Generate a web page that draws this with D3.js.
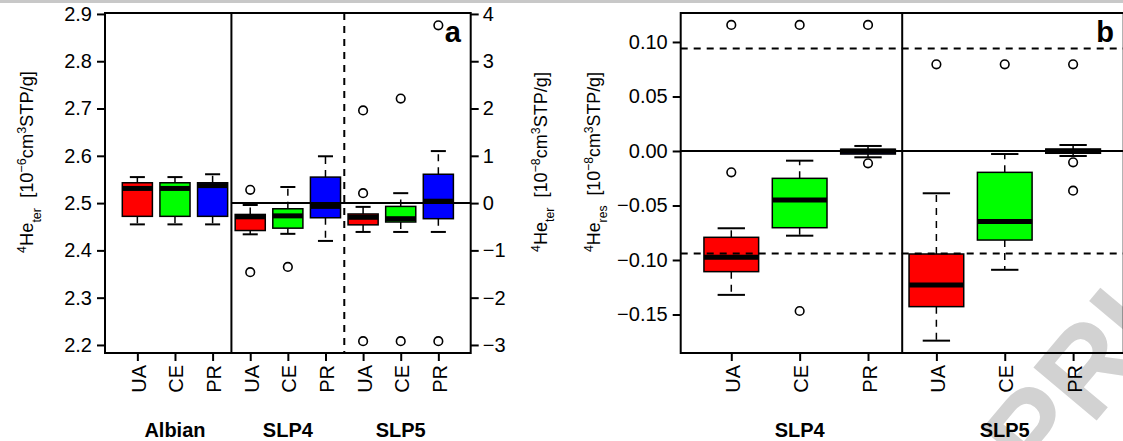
<!DOCTYPE html>
<html>
<head>
<meta charset="utf-8">
<script src="https://cdn.jsdelivr.net/npm/d3@7"></script>
<style>
  body { margin: 0; background: #fff; }
  svg { font-family: "Liberation Sans", Arial, sans-serif; display: block; }
</style>
</head>
<body>
<svg id="chart" width="1123" height="441"></svg>
<script>
// categories
const methods = ["UA", "CE", "PR"];
const colors  = ["#ff0000", "#00ff00", "#0000ff"];
const groupsA = ["Albian", "SLP4", "SLP5"];
const groupsB = ["SLP4", "SLP5"];

// tick labels
const ticksLeftA  = [2.2, 2.3, 2.4, 2.5, 2.6, 2.7, 2.8, 2.9];
const ticksRightA = [-3, -2, -1, 0, 1, 2, 3, 4];
const ticksB      = [-0.15, -0.10, -0.05, 0.00, 0.05, 0.10];

// box stats: [lower whisker, Q1, median, Q3, upper whisker]
// panel a, Albian on left axis (1e-6)
const albianStats = [[2.455, 2.472, 2.531, 2.543, 2.555],
                     [2.455, 2.472, 2.531, 2.543, 2.555],
                     [2.455, 2.472, 2.537, 2.543, 2.561]];
const albianOut = [[], [], []];
// panel a, SLP4 / SLP5 on right axis (1e-8)
const slp4StatsA = [[-0.66, -0.58, -0.29, -0.24, -0.04],
                    [-0.65, -0.53, -0.27, -0.12, 0.34],
                    [-0.80, -0.31, -0.07, 0.55, 0.99]];
const slp4OutA = [[0.28, -1.46], [-1.35], []];
const slp5StatsA = [[-0.61, -0.46, -0.30, -0.23, -0.08],
                    [-0.61, -0.40, -0.33, -0.07, 0.21],
                    [-0.61, -0.33, 0.04, 0.61, 1.10]];
const slp5OutA = [[1.96, 0.21, -2.92], [2.21, -2.92], [3.76, -2.92]];

// panel b, residuals (1e-8)
const slp4StatsB = [[-0.132, -0.1107, -0.0975, -0.0792, -0.0709],
                    [-0.0777, -0.0704, -0.045, -0.0251, -0.0089],
                    [-0.0058, -0.0028, -0.0003, 0.0016, 0.0046]];
const slp4OutB = [[0.1156, -0.0196], [0.1156, -0.1468], [0.1156, -0.0113]];
const slp5StatsB = [[-0.174, -0.1428, -0.123, -0.0945, -0.0388],
                    [-0.109, -0.0817, -0.0648, -0.0196, -0.0028],
                    [-0.0046, -0.0021, -0.0002, 0.0018, 0.0055]];
const slp5OutB = [[0.0795], [0.0795], [0.0795, -0.0104, -0.0364]];
const limitsB = [0.094, -0.094];

const svg = d3.select("#chart");

// gray strip + watermark
svg.append("rect").attr("x", 0).attr("y", 0).attr("width", 1123).attr("height", 3).attr("fill", "#c8c8c8");
svg.append("text")
  .attr("transform", "translate(1040,488) rotate(-50)")
  .attr("font-size", 120).attr("font-weight", "bold")
  .attr("fill", "#d2d2d2").text("PRI");

const TOP = 13, BOTTOM = 353;

const xA  = d3.scaleLinear().domain([0.14, 9.86]).range([105, 470.7]);
const yL  = d3.scaleLinear().domain([2.183, 2.902]).range([BOTTOM, TOP]);
const yR  = d3.scaleLinear().domain([-3.17, 4.02]).range([BOTTOM, TOP]);
const xB  = d3.scaleLinear().domain([0.26, 6.74]).range([680.7, 1123.7]);
const yB  = d3.scaleLinear().domain([-0.1856, 0.1263]).range([BOTTOM + 0.3, TOP + 0.3]);

function drawBox(g, x, y, pos, st, outs, color, unit) {
  const half = 0.4 * unit, cap = 0.2 * unit;
  const cx = x(pos);
  // whiskers
  g.append("line").attr("x1", cx).attr("x2", cx).attr("y1", y(st[3])).attr("y2", y(st[4]))
    .attr("stroke", "#000").attr("stroke-width", 1.5).attr("stroke-dasharray", "7,6");
  g.append("line").attr("x1", cx).attr("x2", cx).attr("y1", y(st[1])).attr("y2", y(st[0]))
    .attr("stroke", "#000").attr("stroke-width", 1.5).attr("stroke-dasharray", "7,6");
  [st[0], st[4]].forEach(v => {
    g.append("line").attr("x1", cx - cap).attr("x2", cx + cap).attr("y1", y(v)).attr("y2", y(v))
      .attr("stroke", "#000").attr("stroke-width", 2);
  });
  g.append("rect").attr("x", cx - half).attr("width", 2 * half)
    .attr("y", y(st[3])).attr("height", Math.max(0.5, y(st[1]) - y(st[3])))
    .attr("fill", color).attr("stroke", "#000").attr("stroke-width", 1.5);
  g.append("line").attr("x1", cx - half).attr("x2", cx + half).attr("y1", y(st[2])).attr("y2", y(st[2]))
    .attr("stroke", "#000").attr("stroke-width", 5);
  outs.forEach(v => {
    g.append("circle").attr("cx", cx).attr("cy", y(v)).attr("r", 4.3)
      .attr("fill", "none").attr("stroke", "#000").attr("stroke-width", 1.6);
  });
}

function bottomAxis(g, x, positions) {
  const ax = g.append("g").attr("transform", `translate(0,${BOTTOM})`)
    .call(d3.axisBottom(x).tickValues(positions).tickSize(8).tickFormat((d, i) => methods[i % 3]));
  ax.select(".domain").remove();
  ax.selectAll("line").attr("stroke-width", 2);
  ax.selectAll("text")
    .attr("transform", "rotate(-90)").attr("x", -12).attr("y", 0).attr("dy", "0.4em")
    .attr("text-anchor", "end").attr("font-size", 20).attr("fill", "#000");
}

// rotated axis title, stretched along its length to match the reference
function yLabel(xpos, ypos, sub, exp, len) {
  const g = svg.append("g").attr("transform", `translate(${xpos},${ypos}) rotate(-90)`);
  const t = g.append("text").attr("text-anchor", "middle").attr("font-size", 19).attr("fill", "#000")
    .style("white-space", "pre");
  t.append("tspan").attr("font-size", 13).attr("baseline-shift", "super").text("4");
  t.append("tspan").text("He");
  t.append("tspan").attr("font-size", 13).attr("baseline-shift", "sub").text(sub);
  t.append("tspan").text("\u00a0\u00a0[10");
  t.append("tspan").attr("font-size", 13).attr("baseline-shift", "super").text("\u2212" + exp);
  t.append("tspan").text("cm");
  t.append("tspan").attr("font-size", 13).attr("baseline-shift", "super").text("3");
  t.append("tspan").text("STP/g]");
  const w = t.node().getBBox().width;
  t.attr("transform", `scale(${len / w},1)`);
}

// ---------- panel a ----------
const gA = svg.append("g");
const unitA = xA(1) - xA(0);
albianStats.forEach((st, i) => drawBox(gA, xA, yL, 1 + i, st, albianOut[i], colors[i], unitA));
slp4StatsA.forEach((st, i) => drawBox(gA, xA, yR, 4 + i, st, slp4OutA[i], colors[i], unitA));
slp5StatsA.forEach((st, i) => drawBox(gA, xA, yR, 7 + i, st, slp5OutA[i], colors[i], unitA));

gA.append("line").attr("x1", xA(3.5)).attr("x2", xA(3.5)).attr("y1", TOP).attr("y2", BOTTOM)
  .attr("stroke", "#000").attr("stroke-width", 2);
gA.append("line").attr("x1", xA(6.5)).attr("x2", xA(6.5)).attr("y1", TOP).attr("y2", BOTTOM)
  .attr("stroke", "#000").attr("stroke-width", 2).attr("stroke-dasharray", "7,6");
gA.append("line").attr("x1", xA(3.5)).attr("x2", xA.range()[1]).attr("y1", yR(0)).attr("y2", yR(0))
  .attr("stroke", "#000").attr("stroke-width", 2);

gA.append("rect").attr("x", xA.range()[0]).attr("y", TOP)
  .attr("width", xA.range()[1] - xA.range()[0]).attr("height", BOTTOM - TOP)
  .attr("fill", "none").attr("stroke", "#000").attr("stroke-width", 2);

const axL = gA.append("g").attr("transform", `translate(${xA.range()[0]},0)`)
  .call(d3.axisLeft(yL).tickValues(ticksLeftA).tickFormat(d3.format(".1f")).tickSize(8).tickPadding(5));
const axR = gA.append("g").attr("transform", `translate(${xA.range()[1]},0)`)
  .call(d3.axisRight(yR).tickValues(ticksRightA).tickFormat(d3.format("d")).tickSize(8).tickPadding(4));
[axL, axR].forEach(ax => {
  ax.select(".domain").remove();
  ax.selectAll("line").attr("stroke-width", 2);
  ax.selectAll("text").attr("font-size", 20).attr("fill", "#000");
});
bottomAxis(gA, xA, d3.range(1, 10));

groupsA.forEach((gname, i) => {
  gA.append("text").attr("x", xA(2 + 3 * i)).attr("y", 437).attr("text-anchor", "middle")
    .attr("font-size", 20).attr("font-weight", "bold").text(gname);
});
gA.append("text").attr("x", 461).attr("y", 41.5).attr("text-anchor", "end")
  .attr("font-size", 29).attr("font-weight", "bold").text("a");

// ---------- panel b ----------
const gB = svg.append("g");
const unitB = xB(1) - xB(0);
slp4StatsB.forEach((st, i) => drawBox(gB, xB, yB, 1 + i, st, slp4OutB[i], colors[i], unitB));
slp5StatsB.forEach((st, i) => drawBox(gB, xB, yB, 4 + i, st, slp5OutB[i], colors[i], unitB));

gB.append("line").attr("x1", xB(3.5)).attr("x2", xB(3.5)).attr("y1", TOP).attr("y2", BOTTOM)
  .attr("stroke", "#000").attr("stroke-width", 2);
gB.append("line").attr("x1", xB.range()[0]).attr("x2", xB.range()[1]).attr("y1", yB(0)).attr("y2", yB(0))
  .attr("stroke", "#000").attr("stroke-width", 2);
limitsB.forEach(v => {
  gB.append("line").attr("x1", xB.range()[0]).attr("x2", xB.range()[1]).attr("y1", yB(v)).attr("y2", yB(v))
    .attr("stroke", "#000").attr("stroke-width", 2).attr("stroke-dasharray", "7,6");
});

gB.append("rect").attr("x", xB.range()[0]).attr("y", TOP)
  .attr("width", xB.range()[1] - xB.range()[0]).attr("height", BOTTOM - TOP)
  .attr("fill", "none").attr("stroke", "#000").attr("stroke-width", 2);

const axB = gB.append("g").attr("transform", `translate(${xB.range()[0]},0)`)
  .call(d3.axisLeft(yB).tickValues(ticksB).tickFormat(d3.format(".2f")).tickSize(8).tickPadding(5));
axB.select(".domain").remove();
axB.selectAll("line").attr("stroke-width", 2);
axB.selectAll("text").attr("font-size", 20).attr("fill", "#000");
bottomAxis(gB, xB, d3.range(1, 7));

groupsB.forEach((gname, i) => {
  gB.append("text").attr("x", xB(2 + 3 * i)).attr("y", 437).attr("text-anchor", "middle")
    .attr("font-size", 20).attr("font-weight", "bold").text(gname);
});
gB.append("text").attr("x", 1114).attr("y", 41.5).attr("text-anchor", "end")
  .attr("font-size", 29).attr("font-weight", "bold").text("b");

// y labels
yLabel(33, 162, "ter", "6", 182);
yLabel(547, 162, "ter", "8", 180);
yLabel(600, 162, "res", "8", 180);
</script>
</body>
</html>
